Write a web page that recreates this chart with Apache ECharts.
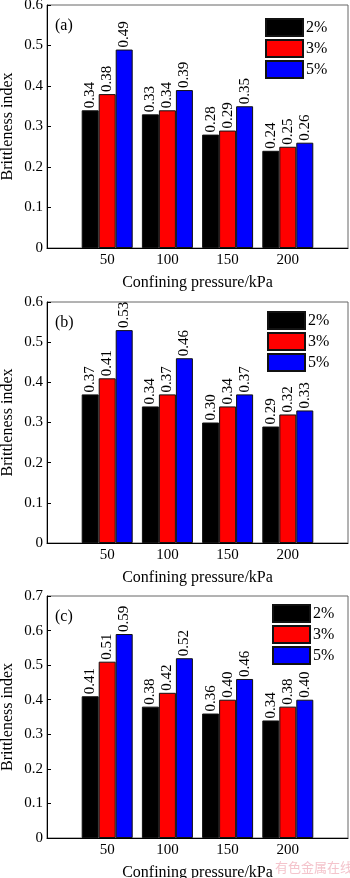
<!DOCTYPE html>
<html><head><meta charset="utf-8">
<script src="https://cdn.jsdelivr.net/npm/echarts@6/dist/echarts.min.js"></script>
<style>html,body{margin:0;padding:0;background:#fff}#c{width:350px;height:878px}</style>
</head><body><div id="c"></div>
<script>
var pressures = [50, 100, 150, 200];
var seriesNames = ['2%', '3%', '5%'];
var colors = ['#000000', '#ff0000', '#0000ff'];
var panelTags = ['(a)', '(b)', '(c)'];
var yMax = [0.6, 0.6, 0.7];
var a2 = [0.34, 0.33, 0.28, 0.24];
var a3 = [0.38, 0.34, 0.29, 0.25];
var a5 = [0.49, 0.39, 0.35, 0.26];
var b2 = [0.37, 0.34, 0.30, 0.29];
var b3 = [0.41, 0.37, 0.34, 0.32];
var b5 = [0.53, 0.46, 0.37, 0.33];
var c2 = [0.41, 0.38, 0.36, 0.34];
var c3 = [0.51, 0.42, 0.40, 0.38];
var c5 = [0.59, 0.52, 0.46, 0.40];
var panels = [[a2, a3, a5], [b2, b3, b5], [c2, c3, c5]];
var xName = 'Confining pressure/kPa';
var yName = 'Brittleness index';

var FONT = '"Liberation Serif","Times New Roman",serif';
var gridTops = [5, 302, 596];
var gridHeights = [243, 241, 242];
var legendTops = [18, 311, 604];
var legendLefts = [265, 267, 272];
var tagTops = [18, 315, 609];

var grids = [], xAxes = [], yAxes = [], series = [], legends = [], graphics = [];
for (var p = 0; p < 3; p++) {
  grids.push({left: 47, top: gridTops[p], width: 301, height: gridHeights[p], show: true, borderColor: '#666', borderWidth: 1, backgroundColor: '#fff', containLabel: false, outerBoundsMode: 'none'});
  xAxes.push({
    type: 'value', gridIndex: p, min: 0, max: 250, interval: 50,
    name: xName, nameLocation: 'middle', nameGap: 27,
    nameTextStyle: {fontFamily: FONT, fontSize: 16, color: '#000'},
    axisLine: {show: true, lineStyle: {color: '#000', width: 1}},
    axisTick: {show: false}, splitLine: {show: false},
    axisLabel: {fontFamily: FONT, fontSize: 15, color: '#000', margin: 5,
      formatter: function (v) { return (v === 0 || v === 250) ? '' : String(v); }}
  });
  yAxes.push({
    type: 'value', gridIndex: p, min: 0, max: yMax[p], interval: 0.1,
    axisLine: {show: true, lineStyle: {color: '#000', width: 1}},
    axisTick: {show: true, inside: true, length: 4, lineStyle: {color: '#000'}},
    splitLine: {show: false},
    axisLabel: {fontFamily: FONT, fontSize: 15, color: '#000', margin: 4,
      formatter: function (v) { return v === 0 ? '0' : v.toFixed(1); }}
  });
  for (var s = 0; s < 3; s++) {
    var vals = panels[p][s];
    series.push({
      type: 'bar', name: seriesNames[s], xAxisIndex: p, yAxisIndex: p,
      data: pressures.map(function (x, i) { return [x, vals[i]]; }),
      barWidth: 17, barGap: '0%',
      itemStyle: {color: colors[s], borderColor: '#111', borderWidth: 1},
      label: {show: true, position: 'top', rotate: 90, align: 'left', verticalAlign: 'middle', distance: 2,
        fontFamily: FONT, fontSize: 15, color: '#000',
        formatter: function (d) { return d.value[1].toFixed(2); }}
    });
  }
  legends.push({
    data: seriesNames, orient: 'vertical', left: legendLefts[p], top: legendTops[p],
    icon: 'rect', itemWidth: 37, itemHeight: 17, itemGap: 2, selectedMode: false,
    textStyle: {fontFamily: FONT, fontSize: 16, color: '#000', padding: [0, 0, 0, -2]},
    padding: 0
  });
  graphics.push({type: 'text', left: 55, top: tagTops[p], style: {text: panelTags[p], font: '16px ' + FONT, fill: '#000'}});
  graphics.push({type: 'text', x: 8, y: gridTops[p] + gridHeights[p] / 2, rotation: Math.PI / 2,
    style: {text: yName, font: '16px ' + FONT, fill: '#000', align: 'center', verticalAlign: 'middle'}});
}
graphics.push({type: 'text', left: 275, top: 861, style: {text: '有色金属在线', font: '13px "Noto Sans CJK SC"', fill: '#f4c4cc'}});

var chart = echarts.init(document.getElementById('c'), null, {renderer: 'canvas'});
chart.setOption({
  animation: false, backgroundColor: '#fff',
  grid: grids, xAxis: xAxes, yAxis: yAxes, series: series, legend: legends, graphic: graphics
});
</script></body></html>
